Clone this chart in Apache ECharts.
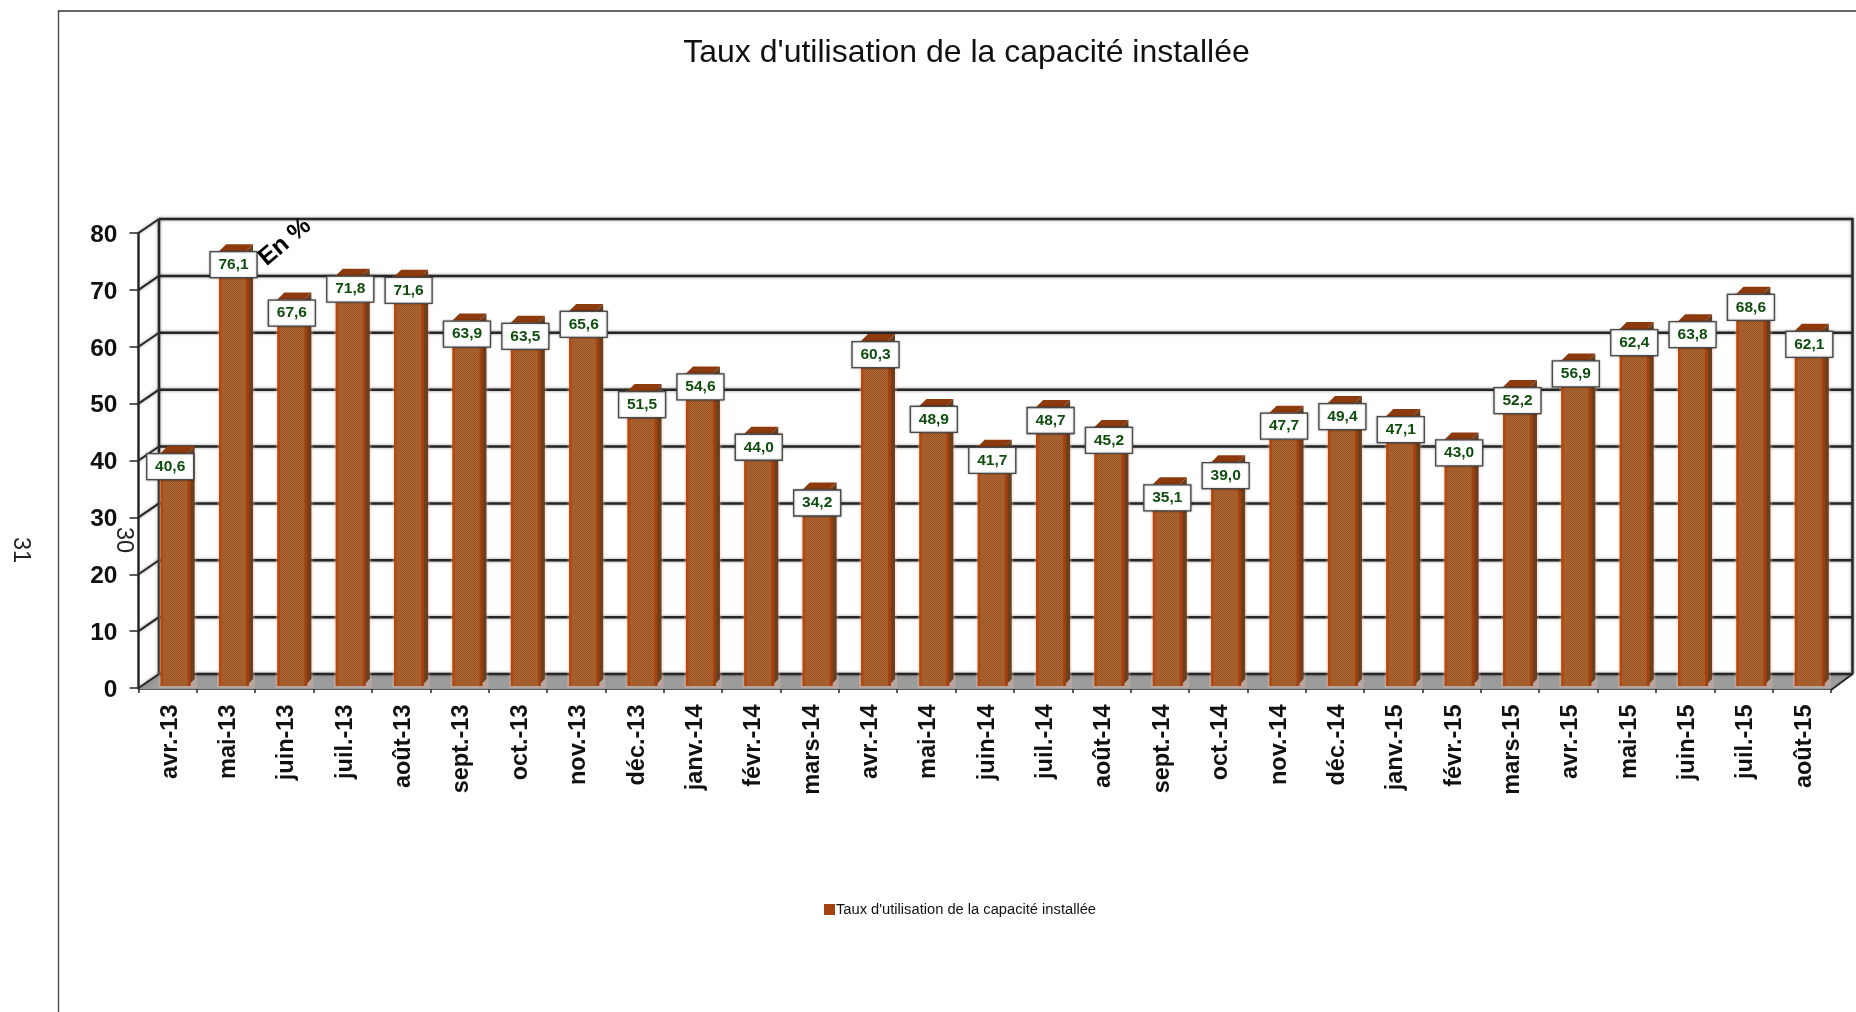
<!DOCTYPE html>
<html><head><meta charset="utf-8">
<style>html,body{margin:0;padding:0;background:#fff}#c{width:1856px;height:1012px}</style>
<script src="https://cdn.jsdelivr.net/npm/echarts@6/dist/echarts.min.js"></script>
</head><body><div id="c"></div>
<script>
const categories = ["avr.-13","mai-13","juin-13","juil.-13","août-13","sept.-13","oct.-13","nov.-13","déc.-13","janv.-14","févr.-14","mars-14","avr.-14","mai-14","juin-14","juil.-14","août-14","sept.-14","oct.-14","nov.-14","déc.-14","janv.-15","févr.-15","mars-15","avr.-15","mai-15","juin-15","juil.-15","août-15"];
const values = [40.6,76.1,67.6,71.8,71.6,63.9,63.5,65.6,51.5,54.6,44.0,34.2,60.3,48.9,41.7,48.7,45.2,35.1,39.0,47.7,49.4,47.1,43.0,52.2,56.9,62.4,63.8,68.6,62.1];
const yTicks = [0,10,20,30,40,50,60,70,80];
const seriesName = "Taux d'utilisation de la capacité installée";
const chartTitle = "Taux d'utilisation de la capacité installée";

const FONT = '"Liberation Sans", Arial, sans-serif';
const DX = 20.5, DY = -14;
const BAR_W = 27, BAR_SHIFT = 6.5, BX = 7, BY = -7;
const LINE = '#262626';

function dither(a, b) {
  const c = document.createElement('canvas'); c.width = c.height = 4;
  const g = c.getContext('2d');
  g.fillStyle = a; g.fillRect(0,0,4,4);
  g.fillStyle = b;
  [[0,0],[2,0],[1,1],[3,1],[0,2],[2,2],[1,3],[3,3]].forEach(p => g.fillRect(p[0],p[1],1,1));
  return {image:c, repeat:'repeat'};
}
const facePattern = dither('#b5662a','#94562e');

const chart = echarts.init(document.getElementById('c'), null, {renderer:'canvas'});

function renderFrame(params, api) {
  const cs = params.coordSys;
  const v = api.value(0);
  const y = api.coord([0, v])[1];
  const x0 = cs.x, x1 = cs.x + cs.width;
  const glow = {shadowBlur:3, shadowColor:'rgba(90,90,90,0.7)'};
  const kids = [];
  if (v === 0) {
    kids.push({type:'polygon', shape:{points:[[x0,y+1],[x0+DX,y+DY],[x1+DX+1,y+DY],[x1,y+1]]}, style:{fill:'#9c9c9c'}});
    kids.push({type:'line', shape:{x1:x0+DX,y1:y+DY,x2:x0+DX,y2:cs.y+DY}, style:{stroke:LINE,lineWidth:2.5,...glow}});
    kids.push({type:'line', shape:{x1:x1+DX+1,y1:y+DY,x2:x1+DX+1,y2:cs.y+DY-1}, style:{stroke:LINE,lineWidth:2.5,...glow}});
    kids.push({type:'line', shape:{x1:x1,y1:y+2,x2:x1+DX+1,y2:y+DY}, style:{stroke:LINE,lineWidth:2}});
  }
  kids.push({type:'line', shape:{x1:x0,y1:y,x2:x0+DX,y2:y+DY}, style:{stroke:LINE,lineWidth:2,...glow}});
  kids.push({type:'line', shape:{x1:x0+DX,y1:y+DY,x2:x1+DX+1,y2:y+DY}, style:{stroke:LINE,lineWidth:2.5,...glow}});
  return {type:'group', children:kids};
}

function renderBar(params, api) {
  const c = api.coord([api.value(0), api.value(1)]);
  const base = api.coord([api.value(0), 0]);
  const xl = c[0] - BAR_W/2 + BAR_SHIFT, xr = xl + BAR_W;
  const top = c[1] - 4, bot = base[1] - 2;
  return {type:'group', children:[
    {type:'rect', shape:{x:xl-2,y:top-1,width:BAR_W+BX+4,height:bot-top+3}, style:{fill:'rgba(255,190,170,0.28)'}},
    {type:'polygon', shape:{points:[[xr,top],[xr+BX,top+BY],[xr+BX,bot+BY],[xr,bot]]}, style:{fill:'#6a4120'}},
    {type:'rect', shape:{x:xr-1,y:top,width:4,height:bot-top}, style:{fill:'#a63f0c'}},
    {type:'polygon', shape:{points:[[xl,top],[xl+BX,top+BY],[xr+BX,top+BY],[xr,top]]}, style:{fill:'#8c3a0e'}},
    {type:'rect', shape:{x:xl,y:top,width:BAR_W,height:bot-top}, style:{fill:facePattern}},
    {type:'rect', shape:{x:xl,y:top,width:2.5,height:bot-top}, style:{fill:'#b5480f'}}
  ]};
}

function renderLabel(params, api) {
  const i = api.value(0), val = api.value(1);
  const c = api.coord([i, val]);
  const cx = c[0] + BAR_SHIFT + 1 + (i === 0 ? -5 : 0), cy = c[1] + 9.5;
  const W = 47, H = 26;
  return {type:'group', children:[
    {type:'rect', shape:{x:cx-W/2,y:cy-H/2,width:W,height:H}, style:{fill:'#fff',stroke:'#4a4a4a',lineWidth:1.3,shadowBlur:2,shadowColor:'rgba(0,0,0,0.35)'}},
    {type:'text', style:{x:cx,y:cy,text:val.toFixed(1).replace('.',','),fill:'#0f4d0f',font:'bold 15.5px '+FONT,align:'center',verticalAlign:'middle'}}
  ]};
}

chart.setOption({
  animation:false,
  backgroundColor:'#fff',
  title:{text:chartTitle,left:961.5,top:32,textAlign:'center',textStyle:{fontFamily:FONT,fontWeight:'normal',fontSize:32,color:'#111'}},
  legend:{show:true,left:819,top:897,icon:'rect',itemWidth:11,itemHeight:11,itemGap:0,data:[seriesName],
    textStyle:{fontFamily:FONT,fontSize:14.7,color:'#111',padding:[0,0,0,-4]}},
  grid:{left:138.5,right:25,top:233,bottom:324,containLabel:false},
  xAxis:{type:'category',data:categories,offset:1.5,
    axisLine:{show:true,lineStyle:{color:LINE,width:2.5}},
    axisTick:{show:true,length:5,lineStyle:{color:LINE,width:1.5}},
    axisLabel:{rotate:90,interval:0,margin:15,verticalAlign:'top',lineHeight:5,fontFamily:FONT,fontWeight:'bold',fontSize:23.5,color:'#111'}},
  yAxis:{type:'value',min:0,max:80,interval:10,
    axisLine:{show:true,lineStyle:{color:LINE,width:2.5}},
    axisTick:{show:true,length:9,lineStyle:{color:LINE,width:1.5}},
    splitLine:{show:false},
    axisLabel:{margin:21,verticalAlign:'top',lineHeight:4,fontFamily:FONT,fontWeight:'bold',fontSize:24.5,color:'#111',formatter:v=>String(v)}},
  graphic:[
    {type:'line',shape:{x1:58.5,y1:11,x2:58.5,y2:1012},style:{stroke:'#555',lineWidth:1.5},z:1},
    {type:'line',shape:{x1:58,y1:11,x2:1856,y2:11},style:{stroke:'#333',lineWidth:1.5},z:1},
    {type:'text',x:285,y:242,rotation:40*Math.PI/180,style:{text:'En %',font:'bold 24.5px '+FONT,fill:'#000',align:'center',verticalAlign:'middle'},z:20},
    {type:'text',x:20,y:550,rotation:-Math.PI/2,style:{text:'31',font:'23.5px '+FONT,fill:'#222',align:'center',verticalAlign:'middle'},z:20},
    {type:'text',x:123,y:540,rotation:-Math.PI/2,style:{text:'30',font:'23.5px '+FONT,fill:'#222',align:'center',verticalAlign:'middle'},z:20}
  ],
  tooltip:{show:false},
  series:[
    {type:'custom',name:'cadre',silent:true,z:1,renderItem:renderFrame,data:yTicks.map(v=>[v]),clip:false,encode:{y:0}},
    {type:'custom',name:seriesName,silent:true,z:2,renderItem:renderBar,data:values.map((v,i)=>[i,v]),clip:false,encode:{x:0,y:1},itemStyle:{color:'#a5400f'}},
    {type:'custom',name:'etiquettes',silent:true,z:3,renderItem:renderLabel,data:values.map((v,i)=>[i,v]),clip:false,encode:{x:0,y:1}}
  ]
});
</script></body></html>
